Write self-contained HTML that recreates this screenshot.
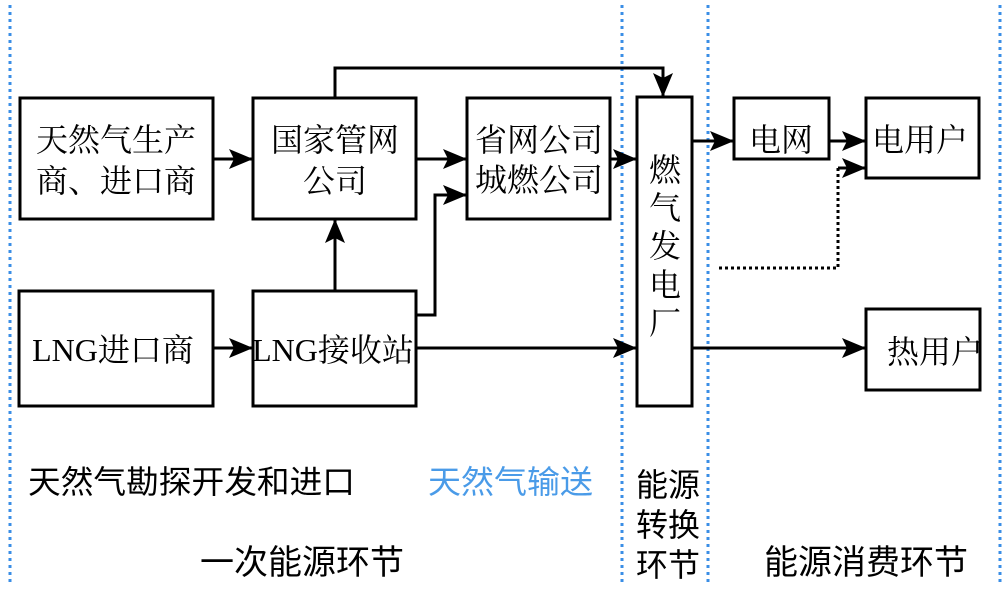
<!DOCTYPE html>
<html><head><meta charset="utf-8"><style>
html,body{margin:0;padding:0;background:#fff;}
svg{display:block}
.n{font-family:"Liberation Serif","Noto Serif CJK SC",serif;font-size:32px;fill:#000}
.b{font-family:"Liberation Sans","Noto Sans CJK SC",sans-serif;fill:#000}
</style></head><body>
<svg width="1005" height="592" viewBox="0 0 1005 592" xmlns="http://www.w3.org/2000/svg">
<defs>
<marker id="a" viewBox="0 0 24 20" refX="24" refY="10" markerWidth="24" markerHeight="20" orient="auto" markerUnits="userSpaceOnUse">
<path d="M0,0 L24,10 L0,20 L5,10 z" fill="#000"/>
</marker>
</defs>
<g stroke="#3a8ee6" stroke-width="3" stroke-dasharray="3,4">
<line x1="10" y1="5" x2="10" y2="582"/>
<line x1="622" y1="5" x2="622" y2="582"/>
<line x1="708" y1="5" x2="708" y2="582"/>
<line x1="1000" y1="5" x2="1000" y2="582"/>
</g>
<g fill="none" stroke="#000" stroke-width="3">
<rect x="20" y="98" width="193" height="121"/>
<rect x="253" y="98" width="163" height="121"/>
<rect x="467" y="98" width="143" height="121"/>
<rect x="19" y="291" width="194" height="115"/>
<rect x="253" y="291" width="163" height="115"/>
<rect x="637" y="97" width="55" height="309"/>
<rect x="734" y="98" width="95" height="61"/>
<rect x="866" y="98" width="113" height="80"/>
<rect x="866" y="309" width="114" height="81"/>
</g>
<g fill="none" stroke="#000" stroke-width="3">
<line x1="213" y1="159" x2="253" y2="159" marker-end="url(#a)"/>
<line x1="416" y1="159" x2="467" y2="159" marker-end="url(#a)"/>
<line x1="335" y1="291" x2="335" y2="219" marker-end="url(#a)"/>
<polyline points="416,315 435,315 435,195 467,195" marker-end="url(#a)"/>
<polyline points="335,98 335,68 663,68 663,97" marker-end="url(#a)"/>
<line x1="610" y1="159" x2="637" y2="159" marker-end="url(#a)"/>
<line x1="213" y1="348" x2="253" y2="348" marker-end="url(#a)"/>
<line x1="416" y1="348" x2="637" y2="348" marker-end="url(#a)"/>
<line x1="692" y1="141" x2="734" y2="141" marker-end="url(#a)"/>
<line x1="829" y1="141" x2="866" y2="141" marker-end="url(#a)"/>
<line x1="692" y1="348" x2="866" y2="348" marker-end="url(#a)"/>
<polyline points="719,268 838,268 838,168" stroke-dasharray="3,3"/>
<line x1="838" y1="168" x2="866" y2="168" marker-end="url(#a)"/>
</g>
<text class="n" x="116" y="151" text-anchor="middle">天然气生产</text>
<text class="n" x="116" y="192" text-anchor="middle">商、进口商</text>
<text class="n" x="335" y="151" text-anchor="middle">国家管网</text>
<text class="n" x="335" y="192" text-anchor="middle">公司</text>
<text class="n" x="539" y="151" text-anchor="middle">省网公司</text>
<text class="n" x="539" y="191" text-anchor="middle">城燃公司</text>
<text class="n" x="113" y="361" text-anchor="middle">LNG进口商</text>
<text class="n" x="333" y="361" text-anchor="middle">LNG接收站</text>
<text class="n" x="665" y="181" text-anchor="middle">燃</text>
<text class="n" x="665" y="219" text-anchor="middle">气</text>
<text class="n" x="665" y="257" text-anchor="middle">发</text>
<text class="n" x="665" y="296" text-anchor="middle">电</text>
<text class="n" x="665" y="334" text-anchor="middle">厂</text>
<text class="n" x="781" y="151" text-anchor="middle">电网</text>
<text class="n" x="920" y="151" text-anchor="middle">电用户</text>
<text class="n" x="935" y="363" text-anchor="middle">热用户</text>
<text class="b" x="28" y="493" font-size="32" textLength="327" lengthAdjust="spacingAndGlyphs">天然气勘探开发和进口</text>
<text class="b" x="428" y="493" font-size="32" textLength="165" lengthAdjust="spacingAndGlyphs" style="fill:#4a9be8">天然气输送</text>
<text class="b" x="668" y="496" font-size="32" text-anchor="middle">能源</text>
<text class="b" x="668" y="536" font-size="32" text-anchor="middle">转换</text>
<text class="b" x="668" y="576" font-size="32" text-anchor="middle">环节</text>
<text class="b" x="302" y="574" font-size="34" text-anchor="middle">一次能源环节</text>
<text class="b" x="866" y="574" font-size="34" text-anchor="middle">能源消费环节</text>
</svg>
</body></html>
